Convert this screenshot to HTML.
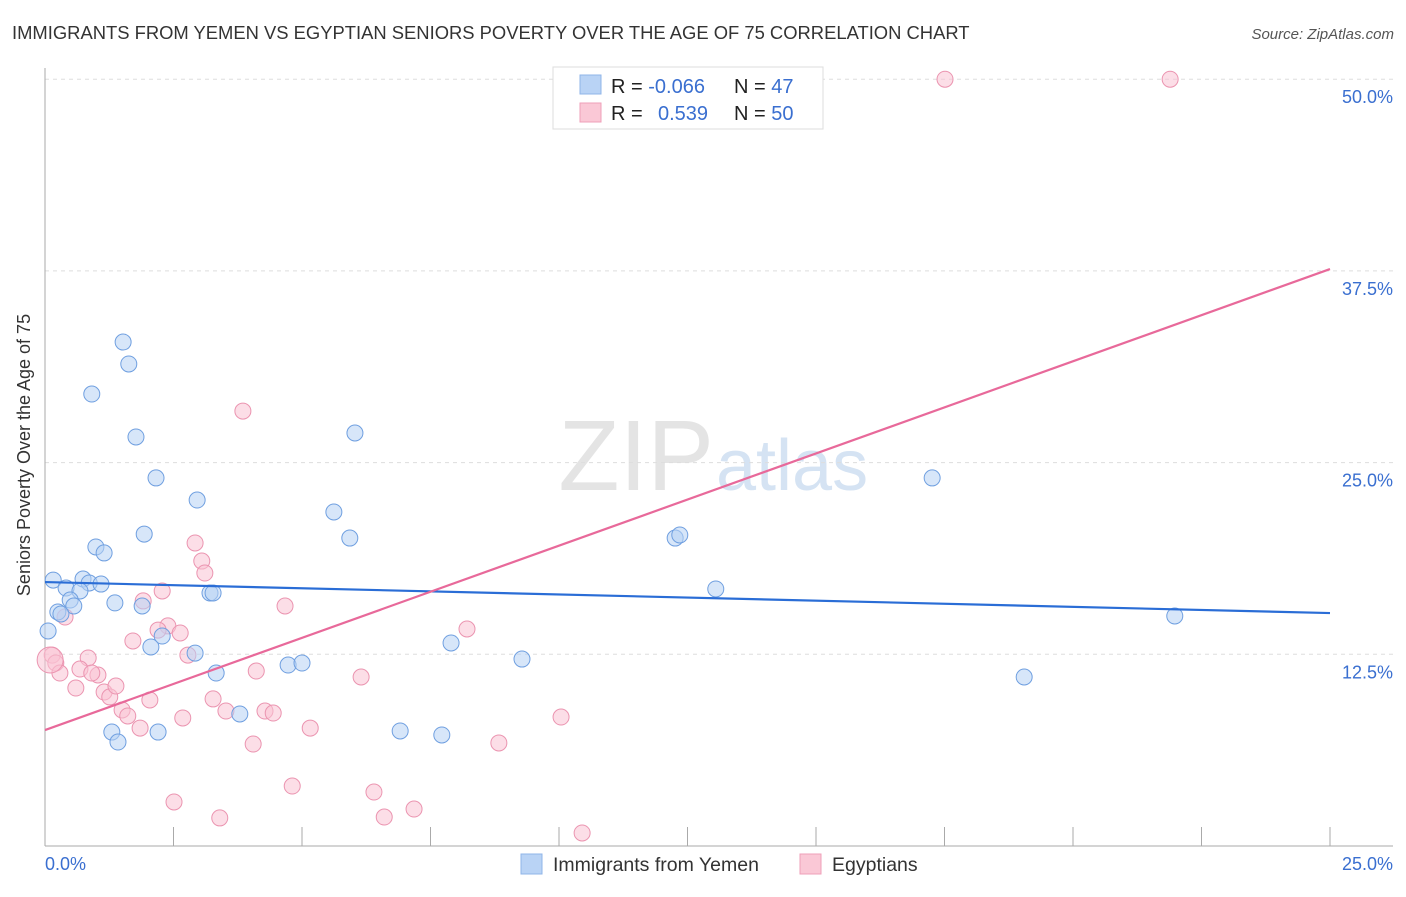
<!DOCTYPE html>
<html><head><meta charset="utf-8"><style>
body{margin:0;background:#fff;font-family:"Liberation Sans",sans-serif}
svg text{font-family:"Liberation Sans",sans-serif}
</style></head><body>
<svg id="chart" width="1406" height="892" xmlns="http://www.w3.org/2000/svg">
<text x="12" y="39" font-size="18.4" fill="#333">IMMIGRANTS FROM YEMEN VS EGYPTIAN SENIORS POVERTY OVER THE AGE OF 75 CORRELATION CHART</text>
<text x="1394" y="39" font-size="15" fill="#555" text-anchor="end" font-style="italic">Source: ZipAtlas.com</text>
<text x="714" y="490" font-size="100" fill="#e4e4e4" text-anchor="end" font-family="Liberation Serif">ZIP</text>
<text x="716" y="490" font-size="72" fill="#d5e3f3">atlas</text>
<g id="grid"></g>
<g id="axes"></g>
<g id="pink"></g>
<g id="blue"></g>
<g id="trends"></g>
<text x="30" y="455" font-size="18" fill="#333" text-anchor="middle" transform="rotate(-90 30 455)">Seniors Poverty Over the Age of 75</text>
<text x="45" y="870" font-size="18" fill="#3a6fd0">0.0%</text>
<text x="1393" y="870" font-size="18" fill="#3a6fd0" text-anchor="end">25.0%</text>
<g>
<rect x="553" y="67" width="270" height="62" fill="#fff" stroke="#ddd"/>
<rect x="580" y="75" width="21" height="19" fill="#b9d3f5" stroke="#8fb4e8"/>
<rect x="580" y="103" width="21" height="19" fill="#fac8d6" stroke="#ef9fb8"/>
<text x="611" y="93" font-size="20" fill="#222">R = <tspan fill="#3a6fd0">-0.066</tspan></text>
<text x="734" y="93" font-size="20" fill="#222">N = <tspan fill="#3a6fd0">47</tspan></text>
<text x="611" y="120" font-size="20" fill="#222">R = <tspan fill="#3a6fd0" x="658">0.539</tspan></text>
<text x="734" y="120" font-size="20" fill="#222">N = <tspan fill="#3a6fd0">50</tspan></text>
</g>
<g>
<rect x="521" y="854" width="21" height="20" fill="#b9d3f5" stroke="#8fb4e8"/>
<text x="553" y="871" font-size="19.5" fill="#333">Immigrants from Yemen</text>
<rect x="800" y="854" width="21" height="20" fill="#fac8d6" stroke="#ef9fb8"/>
<text x="832" y="871" font-size="19.5" fill="#333">Egyptians</text>
</g>
</svg>
<script>
const yTicks=[12.5,25,37.5,50];
const yTickLabels=["12.5%","25.0%","37.5%","50.0%"];
const xTicks=[2.5,5,7.5,10,12.5,15,17.5,20,22.5,25];
const blueX=[1.52,1.63,0.91,1.77,2.16,2.96,6.03,5.62,5.93,1.93,0.99,1.15,0.16,0.74,0.86,1.09,0.41,0.68,0.49,0.56,0.25,0.31,1.36,1.89,3.21,3.27,0.06,2.06,2.28,2.92,3.33,4.73,5.00,3.79,1.30,1.42,2.20,6.91,7.72,7.90,9.28,12.26,12.35,13.05,17.26,19.05,21.98];
const blueY=[32.86,31.43,29.47,26.67,24.0,22.56,26.93,21.78,20.08,20.34,19.5,19.11,17.34,17.41,17.15,17.08,16.82,16.63,16.04,15.65,15.26,15.13,15.85,15.65,16.5,16.5,14.02,12.98,13.69,12.58,11.28,11.8,11.93,8.61,7.43,6.78,7.43,7.5,7.24,13.24,12.19,20.08,20.28,16.76,24.0,11.02,15.0];
const pinkX=[17.51,21.89,3.85,2.92,3.05,3.11,2.28,1.91,4.67,0.39,2.39,2.63,2.20,2.78,1.71,8.21,0.14,0.21,0.29,0.84,0.68,1.03,0.91,0.60,1.15,1.26,1.38,2.04,3.27,4.11,6.15,1.50,1.61,1.85,2.68,3.52,4.28,4.44,5.16,4.05,8.83,10.04,2.51,3.40,4.81,6.40,6.60,7.18,10.45,0.10];
const pinkY=[50,50,28.36,19.76,18.58,17.8,16.63,15.98,15.65,14.93,14.35,13.89,14.08,12.45,13.37,14.15,12.45,11.93,11.28,12.26,11.54,11.15,11.28,10.3,10.04,9.72,10.43,9.52,9.59,11.41,11.02,8.87,8.48,7.69,8.35,8.8,8.8,8.67,7.69,6.65,6.72,8.41,2.87,1.83,3.91,3.52,1.89,2.41,0.85,12.13];
const blueTrend=[17.21,15.19];
const pinkTrend=[7.56,37.62];
const NS="http://www.w3.org/2000/svg";
const X0=45,X1=1330,Y0=846,YPER=191.7/12.5;
const sx=v=>X0+(X1-X0)*v/25;
const sy=v=>Y0-v*YPER;
function mk(t,a,p){const e=document.createElementNS(NS,t);for(const k in a)e.setAttribute(k,a[k]);p.appendChild(e);return e;}
const grid=document.getElementById('grid'),axes=document.getElementById('axes');
yTicks.forEach((t,i)=>{
 const l=mk('line',{x1:X0,x2:1393,y1:sy(t),y2:sy(t),stroke:'#ddd','stroke-dasharray':'4,4'},grid);
 
 
 const tx=mk('text',{x:1393,y:sy(t)+24,'font-size':18,fill:'#3a6fd0','text-anchor':'end'},grid);
 tx.textContent=yTickLabels[i];
 
 
});
mk('line',{x1:X0,x2:X0,y1:68,y2:Y0,stroke:'#aaa'},axes);
mk('line',{x1:X0,x2:1393,y1:Y0,y2:Y0,stroke:'#aaa'},axes);
xTicks.forEach(t=>{
 const l=mk('line',{x1:sx(t),x2:sx(t),y1:Y0-19,y2:Y0,stroke:'#aaa'},axes);
 
 
});
function dots(xs,ys,g,fill,stroke,name){
 xs.forEach((x,i)=>{
  const big=(name==='egyptian-point'&&i===xs.length-1);
  const c=mk('circle',{cx:sx(x),cy:sy(ys[i]),r:big?13:8,fill:fill,'fill-opacity':0.55,stroke:stroke,'stroke-width':1},g);
  
  
 });
}
dots(pinkX,pinkY,document.getElementById('pink'),'#f9c3d3','#eb94b0','egyptian-point');
dots(blueX,blueY,document.getElementById('blue'),'#b7d1f4','#6f9fe0','yemen-point');
const tr=document.getElementById('trends');
const bl=mk('line',{x1:sx(0),y1:sy(blueTrend[0]),x2:sx(25),y2:sy(blueTrend[1]),stroke:'#2a6dd6','stroke-width':2.2},tr);


const pl=mk('line',{x1:sx(0),y1:sy(pinkTrend[0]),x2:sx(25),y2:sy(pinkTrend[1]),stroke:'#e8699a','stroke-width':2.2},tr);


</script>
</body></html>
